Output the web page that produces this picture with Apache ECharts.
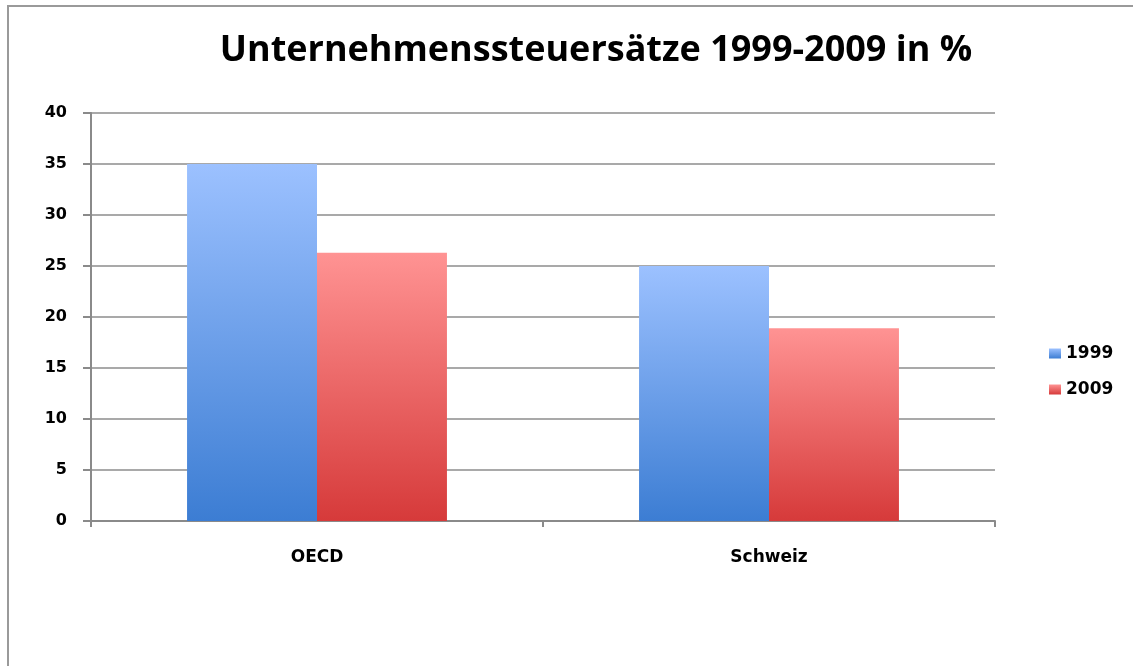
<!DOCTYPE html>
<html><head><meta charset="utf-8">
<script src="https://cdn.jsdelivr.net/npm/echarts@6/dist/echarts.min.js"></script>
<style>html,body{margin:0;padding:0;background:#fff}#c{width:1133px;height:666px}</style>
</head><body><div id="c"></div>
<script>
const categories = ['OECD', 'Schweiz'];
const seriesNames = ['1999', '2009'];
const values1999 = [35, 25];
const values2009 = [26.3, 18.9];

function grad(top, bottom) {
  return new echarts.graphic.LinearGradient(0, 0, 0, 1, [
    {offset: 0, color: top}, {offset: 1, color: bottom}
  ]);
}
const blue = grad('#9cc1ff', '#3c7dd3');
const red = grad('#ff9393', '#d63a3a');

const chart = echarts.init(document.getElementById('c'));
const titleFont = 'Open Sans';
const font = 'DejaVu Sans';
chart.setOption({
  animation: false,
  backgroundColor: '#fff',
  title: {
    text: 'Unternehmenssteuersätze 1999-2009 in %',
    left: 591, textAlign: 'center', top: 28,
    textStyle: {fontFamily: titleFont, fontWeight: 'bold', fontSize: 36, color: '#000'}
  },
  graphic: [{
    type: 'polyline', silent: true,
    shape: {points: [[8, 670], [8, 6], [1140, 6]]},
    style: {stroke: '#9a9a9a', lineWidth: 2, fill: null}
  }],
  legend: {
    orient: 'vertical', left: 1044, top: 340, itemGap: 19,
    itemWidth: 12, itemHeight: 10,
    textStyle: {fontFamily: font, fontWeight: 'bold', fontSize: 17, color: '#000'},
    data: [{name: '1999', icon: 'rect', itemStyle: {color: blue}},
           {name: '2009', icon: 'rect', itemStyle: {color: red}}]
  },
  grid: {left: 91, right: 138, top: 113, bottom: 145, containLabel: false},
  xAxis: {
    type: 'category', data: categories,
    axisLine: {lineStyle: {color: '#8a8a8a', width: 2}},
    axisTick: {show: true, length: 6, lineStyle: {color: '#8a8a8a', width: 2}},
    axisLabel: {fontFamily: font, fontWeight: 'bold', fontSize: 17, color: '#000', margin: 28}
  },
  yAxis: {
    type: 'value', min: 0, max: 40, interval: 5,
    axisLine: {show: true, lineStyle: {color: '#8a8a8a', width: 2}},
    axisTick: {show: true, length: 8, lineStyle: {color: '#8a8a8a', width: 2}},
    axisLabel: {fontFamily: font, fontWeight: 'bold', fontSize: 16, color: '#000', margin: 24},
    splitLine: {lineStyle: {color: '#8c8c8c', width: 1.5}}
  },
  series: [
    {name: seriesNames[0], type: 'bar', data: values1999, barGap: '0%', barCategoryGap: '42.5%',
     itemStyle: {color: blue}},
    {name: seriesNames[1], type: 'bar', data: values2009, barGap: '0%', barCategoryGap: '42.5%',
     itemStyle: {color: red}}
  ]
});
</script></body></html>
